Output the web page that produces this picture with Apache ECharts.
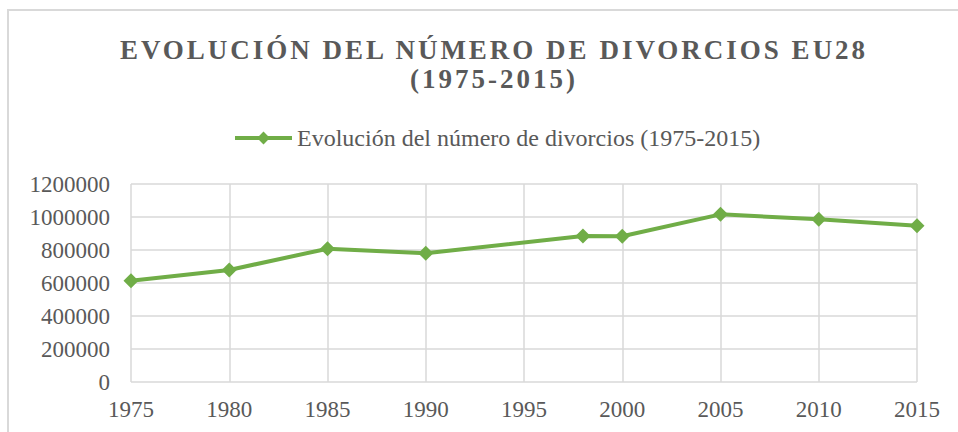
<!DOCTYPE html>
<html lang="es">
<head>
    <meta charset="UTF-8">
    <title>Divorcios EU28</title>
    <script type="text/javascript" src="https://cdn.jsdelivr.net/npm/echarts@6/dist/echarts.min.js"></script>
    <style>
        html, body { margin: 0; padding: 0; background: #fff; }
        /* espaciado de letras del título (solo texto en negrita) */
        #main text[style*="bold"] { letter-spacing: 3px; }
    </style>
</head>
<body>
<div id="main" style="width: 958px; height: 432px;"></div>

<script>
    // datos
    var years = [1975, 1980, 1985, 1990, 1998, 2000, 2005, 2010, 2015];
    var divorces = [614000, 679000, 808000, 780000, 885000, 883000, 1016000, 986000, 947000];
    var seriesName = 'Evolución del número de divorcios (1975-2015)';
    var titleText = 'EVOLUCIÓN DEL NÚMERO DE DIVORCIOS EU28\n(1975-2015)';

    var points = [];
    for (var i = 0; i < years.length; i++) {
        points.push([years[i], divorces[i]]);
    }

    var myChart = echarts.init(document.getElementById('main'), null, {renderer: 'svg'});

    var fontFam = '"Liberation Serif", "Times New Roman", serif';

    var option = {
        animation: false,
        backgroundColor: '#fff',
        graphic: [{
            type: 'rect',
            z: -10,
            shape: {x: 8, y: 10, width: 1000, height: 500},
            style: {fill: 'none', stroke: '#d9d9d9', lineWidth: 2}
        }],
        title: {
            text: titleText,
            left: 489,
            textAlign: 'center',
            top: 30,
            textStyle: {
                fontFamily: fontFam,
                fontWeight: 'bold',
                fontSize: 27,
                lineHeight: 29,
                color: '#595959'
            }
        },
        legend: {
            left: 228,
            top: 121,
            itemWidth: 57,
            itemHeight: 16,
            lineStyle: {width: 4},
            textStyle: {
                fontFamily: fontFam,
                fontSize: 24,
                color: '#595959'
            },
            data: [seriesName]
        },
        grid: {
            left: 131,
            right: 41,
            top: 184,
            bottom: 50
        },
        xAxis: {
            type: 'value',
            min: 1975,
            max: 2015,
            interval: 5,
            axisLine: {show: false},
            axisTick: {show: false},
            splitLine: {
                show: true,
                lineStyle: {color: '#d9d9d9', width: 1.5}
            },
            axisLabel: {
                margin: 16,
                fontFamily: fontFam,
                fontSize: 23,
                color: '#595959',
                formatter: function (value) {
                    return String(value);
                }
            }
        },
        yAxis: {
            type: 'value',
            min: 0,
            max: 1200000,
            interval: 200000,
            axisLine: {show: false},
            axisTick: {show: false},
            splitLine: {
                lineStyle: {color: '#d9d9d9', width: 1.5}
            },
            axisLabel: {
                margin: 21,
                fontFamily: fontFam,
                fontSize: 23,
                color: '#595959',
                formatter: function (value) {
                    return String(value);
                }
            }
        },
        series: [{
            name: seriesName,
            type: 'line',
            data: points,
            symbol: 'diamond',
            symbolSize: 15,
            lineStyle: {color: '#70ad47', width: 4},
            itemStyle: {color: '#70ad47'}
        }]
    };

    myChart.setOption(option);
</script>
</body>
</html>
